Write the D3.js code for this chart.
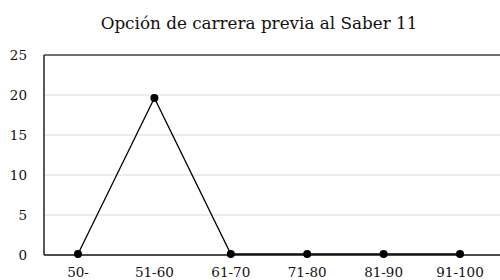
<!DOCTYPE html>
<html>
<head>
<meta charset="utf-8">
<script src="https://cdn.jsdelivr.net/npm/d3@7"></script>
<style>
  body { margin: 0; background: #fff; }
  svg { display: block; font-family: "DejaVu Serif", "Liberation Serif", serif; }
</style>
</head>
<body>
<svg id="chart" width="500" height="280"></svg>
<script>
const title = "Opción de carrera previa al Saber 11";
const categories = ["50-", "51-60", "61-70", "71-80", "81-90", "91-100"];
const values = [0, 19.5, 0, 0, 0, 0];
const yTicks = [0, 5, 10, 15, 20, 25];

const plotLeft = 44, plotRight = 500, plotTop = 55, plotBottom = 255;

const svg = d3.select("#chart");

const x = d3.scalePoint().domain(categories).range([78, 460]);
const y = d3.scaleLinear().domain([0, 25]).range([plotBottom, plotTop]);

// Title
svg.append("text")
  .attr("x", 259)
  .attr("y", 29)
  .attr("text-anchor", "middle")
  .attr("font-size", 16.8)
  .attr("fill", "#111")
  .text(title);

// Gridlines
svg.append("g")
  .selectAll("line")
  .data(yTicks.filter(d => d > 0 && d < 25))
  .join("line")
  .attr("x1", plotLeft)
  .attr("x2", plotRight)
  .attr("y1", d => y(d))
  .attr("y2", d => y(d))
  .attr("stroke", "#d9d9d9")
  .attr("stroke-width", 1);

// Y tick labels
svg.append("g")
  .selectAll("text")
  .data(yTicks)
  .join("text")
  .attr("x", 27)
  .attr("y", d => y(d) + 5)
  .attr("text-anchor", "end")
  .attr("font-size", 13.5)
  .attr("fill", "#111")
  .text(d => d);

// Frame: top and left, bottom axis
svg.append("line")
  .attr("x1", plotLeft).attr("x2", plotRight)
  .attr("y1", plotTop).attr("y2", plotTop)
  .attr("stroke", "#404040").attr("stroke-width", 1.5);
svg.append("line")
  .attr("x1", plotLeft).attr("x2", plotLeft)
  .attr("y1", plotTop).attr("y2", plotBottom)
  .attr("stroke", "#222").attr("stroke-width", 1.5);
svg.append("line")
  .attr("x1", plotLeft).attr("x2", plotRight)
  .attr("y1", plotBottom).attr("y2", plotBottom)
  .attr("stroke", "#111").attr("stroke-width", 1.5);

// X tick labels
svg.append("g")
  .selectAll("text")
  .data(categories)
  .join("text")
  .attr("x", d => x(d))
  .attr("y", 277)
  .attr("text-anchor", "middle")
  .attr("font-size", 13.5)
  .attr("fill", "#111")
  .text(d => d);

// Series line
const pts = categories.map((c, i) => ({ c, v: values[i] }));
svg.append("path")
  .datum(pts)
  .attr("fill", "none")
  .attr("stroke", "#000")
  .attr("stroke-width", 1.3)
  .attr("d", d3.line().x(d => x(d.c)).y(d => y(d.v) - 1));

// Markers
svg.append("g")
  .selectAll("circle")
  .data(pts)
  .join("circle")
  .attr("cx", d => x(d.c))
  .attr("cy", d => y(d.v) - 1)
  .attr("r", 4)
  .attr("fill", "#000");
</script>
</body>
</html>
